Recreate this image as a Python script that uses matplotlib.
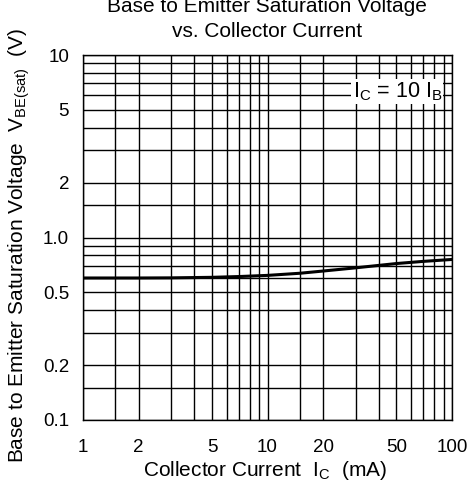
import numpy as np
import matplotlib
matplotlib.use('agg')
import matplotlib.pyplot as plt
from matplotlib.ticker import FixedLocator, NullFormatter

plt.rcParams['font.family'] = ['Liberation Sans', 'DejaVu Sans']
plt.rcParams['mathtext.fontset'] = 'custom'
plt.rcParams['mathtext.rm'] = 'Liberation Sans'
plt.rcParams['mathtext.it'] = 'Liberation Sans'

# curve
ic_ma = [1, 2, 3, 5, 7, 10, 15, 20, 30, 50, 70, 100]
vbe_sat = [0.600, 0.600, 0.601, 0.605, 0.611, 0.620, 0.637, 0.655, 0.682, 0.720, 0.740, 0.758]

x_labels = [1, 2, 5, 10, 20, 50, 100]
x_grid = [1.5, 3, 4, 6, 7, 8, 9, 15, 30, 40, 60, 70, 80, 90]
y_labels = [0.1, 0.2, 0.5, 1.0, 2, 5, 10]
y_label_text = ['0.1', '0.2', '0.5', '1.0', '2', '5', '10']
y_grid = [0.15, 0.3, 0.4, 0.6, 0.7, 0.8, 0.9, 1.5, 3, 4, 6, 7, 8, 9]

W, H = 470, 487
fig = plt.figure(figsize=(W/100, H/100), dpi=100)
ax = fig.add_axes([83/W, 1 - 420/H, 369/W, 365/H])

ax.set_xscale('log')
ax.set_yscale('log')
ax.set_xlim(1, 100)
ax.set_ylim(0.1, 10)

ax.xaxis.set_major_locator(FixedLocator(x_labels))
ax.xaxis.set_minor_locator(FixedLocator(x_grid))
ax.yaxis.set_major_locator(FixedLocator(y_labels))
ax.yaxis.set_minor_locator(FixedLocator(y_grid))
ax.set_xticklabels([str(v) for v in x_labels])
ax.set_yticklabels(y_label_text)
ax.xaxis.set_minor_formatter(NullFormatter())
ax.yaxis.set_minor_formatter(NullFormatter())
ax.tick_params(which='both', length=0, labelsize=13.5, colors='black')
ax.tick_params(axis='x', pad=14)
ax.tick_params(axis='y', pad=10)

ax.grid(True, which='both', color='black', linewidth=1.0)
ax.set_axisbelow(True)
for s in ax.spines.values():
    s.set_linewidth(1.0)
    s.set_color('black')

ax.plot(ic_ma, vbe_sat, color='black', linewidth=2.2, zorder=5)

ax.text(0.852, 0.9, r'$\mathrm{I_C}$ = 10 $\mathrm{I_B}$', transform=ax.transAxes,
        ha='center', va='center', fontsize=15.5, zorder=6,
        bbox=dict(facecolor='white', edgecolor='none', pad=1.0))

fig.text(267/W, 1 - 41/H, 'Base to Emitter Saturation Voltage\nvs. Collector Current',
         ha='center', va='bottom', fontsize=15, linespacing=1.4)
fig.text(265/W, 1 - 470/H, r'Collector Current  $\mathrm{I_C}$  (mA)',
         ha='center', va='center', fontsize=15)
fig.text(19/W, 1 - 245/H, r'Base to Emitter Saturation Voltage  $\mathrm{V_{BE(sat)}}$  (V)',
         ha='center', va='center', rotation=90, fontsize=15)

fig.savefig('out.png', dpi=100)
